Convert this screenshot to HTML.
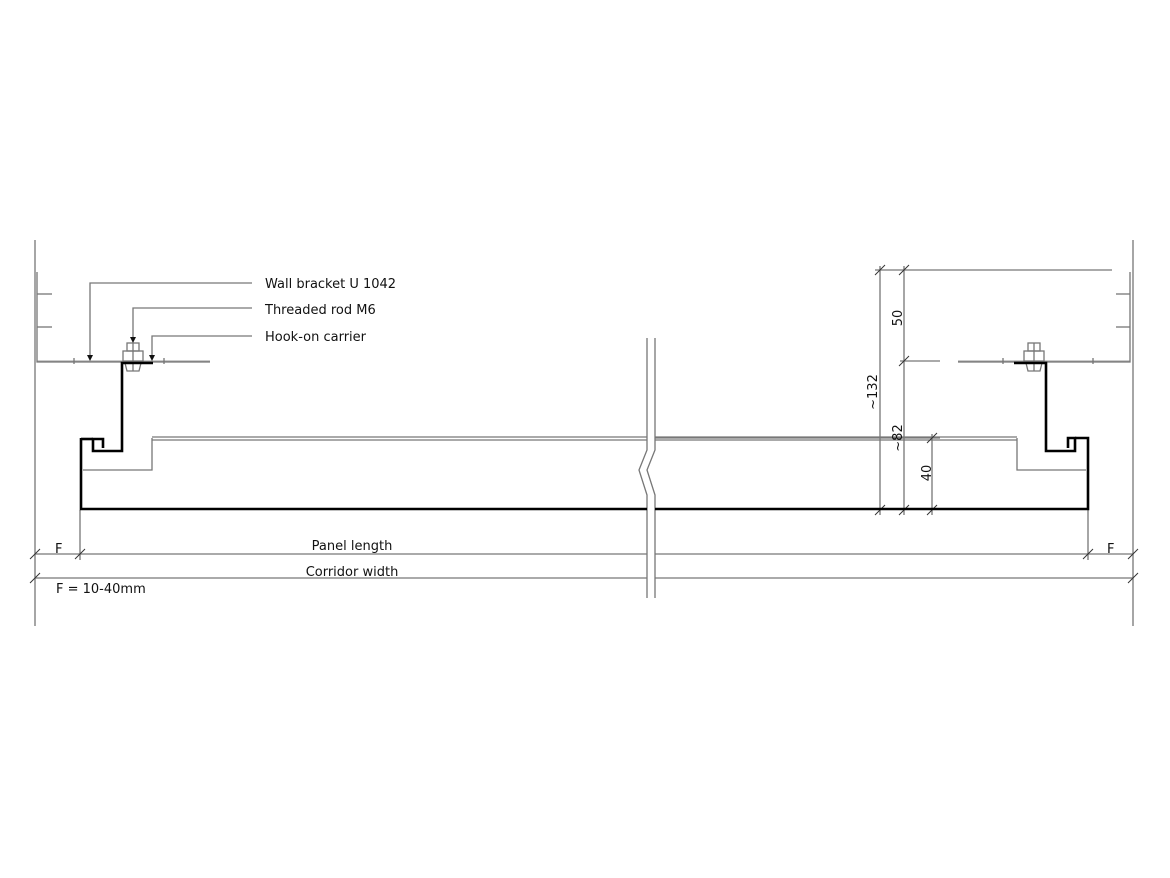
<!DOCTYPE html>
<html><head><meta charset="utf-8"><style>
html,body{margin:0;padding:0;background:#fff}
svg{display:block}
text{font-family:"DejaVu Sans","Liberation Sans",sans-serif;font-size:13px;fill:#111}
</style></head><body>
<svg width="1170" height="878" viewBox="0 0 1170 878" xmlns="http://www.w3.org/2000/svg">
<g stroke="#777" stroke-width="1.3" fill="none">
<!-- walls -->
<line x1="35" y1="240" x2="35" y2="626"/>
<line x1="1133" y1="240" x2="1133" y2="626"/>
<!-- left bracket -->
<polyline points="37,272 37,362 210,362"/>
<line x1="37" y1="361" x2="210" y2="361" stroke-width="0.8"/>
<line x1="37" y1="294" x2="52" y2="294"/><line x1="37" y1="327" x2="52" y2="327"/>
<line x1="74" y1="358" x2="74" y2="364"/><line x1="164" y1="358" x2="164" y2="364"/>
<!-- right bracket -->
<polyline points="1130,272 1130,362 958,362"/>
<line x1="1130" y1="361" x2="958" y2="361" stroke-width="0.8"/>
<line x1="1116" y1="294" x2="1130" y2="294"/><line x1="1116" y1="327" x2="1130" y2="327"/>
<line x1="1003" y1="358" x2="1003" y2="364"/><line x1="1093" y1="358" x2="1093" y2="364"/>
<!-- bolts -->
<rect x="127" y="343" width="12" height="8"/><rect x="123" y="351" width="20" height="10"/><path d="M125,363 h16 l-2,8 h-12 z"/><line x1="133" y1="343" x2="133" y2="371"/>
<rect x="1028" y="343" width="12" height="8"/><rect x="1024" y="351" width="20" height="10"/><path d="M1026,363 h16 l-2,8 h-12 z"/><line x1="1034" y1="343" x2="1034" y2="371"/>
<!-- panel inner lines -->
<line x1="152" y1="437" x2="647" y2="437"/><line x1="655" y1="437" x2="1017" y2="437"/>
<line x1="152" y1="440" x2="647" y2="440"/><line x1="655" y1="440" x2="1017" y2="440"/>
<polyline points="83,470 152,470 152,438"/>
<polyline points="1086,470 1017,470 1017,438"/>
<!-- leaders -->
<polyline points="252,283 90,283 90,358"/>
<polyline points="252,308 133,308 133,340"/>
<polyline points="252,336 152,336 152,358"/>
<!-- dims right -->
<line x1="875" y1="270" x2="1112" y2="270"/>
<line x1="880" y1="266" x2="880" y2="515"/>
<line x1="904" y1="266" x2="904" y2="515"/>
<line x1="932" y1="434" x2="932" y2="515"/>
<line x1="900" y1="361" x2="940" y2="361"/>
<line x1="655" y1="438" x2="940" y2="438"/>
<!-- bottom dims -->
<line x1="80" y1="510" x2="80" y2="560"/>
<line x1="1088" y1="510" x2="1088" y2="560"/>
<line x1="35" y1="554" x2="647" y2="554"/><line x1="655" y1="554" x2="1133" y2="554"/>
<line x1="35" y1="578" x2="647" y2="578"/><line x1="655" y1="578" x2="1133" y2="578"/>
<!-- break lines -->
<polyline points="647,338 647,450 639,470 647,495 647,598"/>
<polyline points="655,338 655,450 647,470 655,495 655,598"/>
</g>
<!-- ticks -->
<g stroke="#333" stroke-width="1">
<line x1="875" y1="275" x2="885" y2="265"/><line x1="899" y1="275" x2="909" y2="265"/>
<line x1="899" y1="366" x2="909" y2="356"/><line x1="927" y1="443" x2="937" y2="433"/>
<line x1="875" y1="515" x2="885" y2="505"/><line x1="899" y1="515" x2="909" y2="505"/><line x1="927" y1="515" x2="937" y2="505"/>
<line x1="30" y1="559" x2="40" y2="549"/><line x1="75" y1="559" x2="85" y2="549"/>
<line x1="1083" y1="559" x2="1093" y2="549"/><line x1="1128" y1="559" x2="1138" y2="549"/>
<line x1="30" y1="583" x2="40" y2="573"/><line x1="1128" y1="583" x2="1138" y2="573"/>
</g>
<!-- arrowheads -->
<g fill="#111"><path d="M87,355 h6 l-3,6z"/><path d="M130,337 h6 l-3,6z"/><path d="M149,355 h6 l-3,6z"/></g>
<!-- thick profiles -->
<g stroke="#000" stroke-width="2.6" fill="none">
<polyline points="153,363 122,363 122,451 93,451 93,439 103,439 103,448"/>
<polyline points="81,439 93,439"/>
<polyline points="81,438 81,509 647,509"/>
<polyline points="655,509 1088,509 1088,438 1075,438"/>
<polyline points="1014,363 1046,363 1046,451 1075,451 1075,438 1068,438 1068,448"/>
</g>
<text x="265" y="288">Wall bracket U 1042</text>
<text x="265" y="314">Threaded rod M6</text>
<text x="265" y="341">Hook-on carrier</text>
<text x="352" y="550" text-anchor="middle">Panel length</text>
<text x="352" y="576" text-anchor="middle">Corridor width</text>
<text x="55" y="553">F</text>
<text x="1107" y="553">F</text>
<text x="56" y="593">F = 10-40mm</text>
<text transform="translate(902,318) rotate(-90)" text-anchor="middle">50</text>
<text transform="translate(877,392) rotate(-90)" text-anchor="middle">~132</text>
<text transform="translate(902,438) rotate(-90)" text-anchor="middle">~82</text>
<text transform="translate(931,473) rotate(-90)" text-anchor="middle">40</text>
</svg>
</body></html>
